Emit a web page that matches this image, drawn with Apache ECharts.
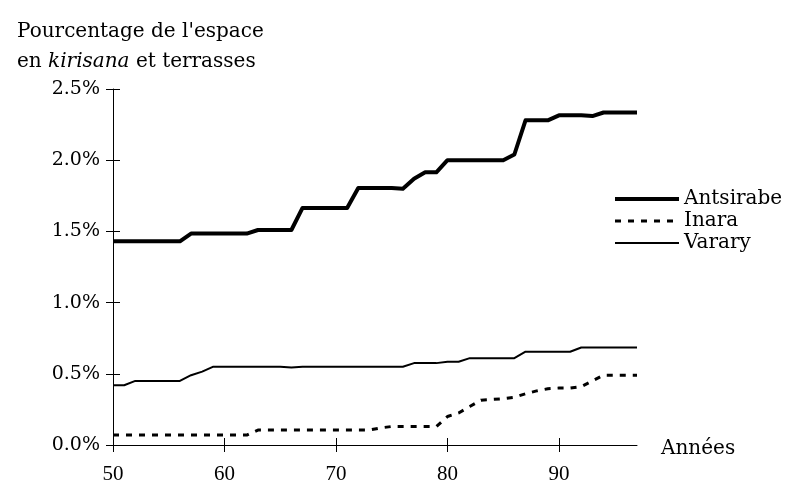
<!DOCTYPE html>
<html>
<head>
<meta charset="utf-8">
<script src="https://cdn.jsdelivr.net/npm/echarts@6/dist/echarts.min.js"></script>
<style>
html,body{margin:0;padding:0;background:#fff;}
#c{width:791px;height:485px;}
</style>
</head>
<body>
<div id="c"></div>
<script>
const years = [50,51,52,53,54,55,56,57,58,59,60,61,62,63,64,65,66,67,68,69,70,71,72,73,74,75,76,77,78,79,80,81,82,83,84,85,86,87,88,89,90,91,92,93,94,95,96,97];
const antsirabe = [1.43,1.43,1.43,1.43,1.43,1.43,1.43,1.485,1.485,1.485,1.485,1.485,1.485,1.51,1.51,1.51,1.51,1.665,1.665,1.665,1.665,1.665,1.805,1.805,1.805,1.805,1.80,1.87,1.915,1.915,2.00,2.00,2.00,2.00,2.00,2.00,2.04,2.28,2.28,2.28,2.315,2.315,2.315,2.31,2.335,2.335,2.335,2.335];
const inara = [0.07,0.07,0.07,0.07,0.07,0.07,0.07,0.07,0.07,0.07,0.07,0.07,0.07,0.105,0.105,0.105,0.105,0.105,0.105,0.105,0.105,0.105,0.105,0.105,0.12,0.13,0.13,0.13,0.13,0.13,0.20,0.225,0.27,0.315,0.32,0.325,0.335,0.36,0.38,0.395,0.40,0.40,0.41,0.45,0.49,0.49,0.49,0.49];
const varary = [0.42,0.42,0.45,0.45,0.45,0.45,0.45,0.49,0.515,0.55,0.55,0.55,0.55,0.55,0.55,0.55,0.545,0.55,0.55,0.55,0.55,0.55,0.55,0.55,0.55,0.55,0.55,0.575,0.575,0.575,0.585,0.585,0.61,0.61,0.61,0.61,0.61,0.655,0.655,0.655,0.655,0.655,0.685,0.685,0.685,0.685,0.685,0.685];
const xTicks = [50,60,70,80,90];
const yTicks = [0,0.5,1.0,1.5,2.0,2.5];
const seriesNames = ['Antsirabe','Inara','Varary'];
const titleLines = ["Pourcentage de l'espace", "en {i|kirisana} et terrasses"];
const xName = 'Années';

const SERIF = 'DejaVu Serif';
const pair = arr => years.map((y,i)=>[y,arr[i]]);
const widths = [4,3,2];
const types = ['solid',[6,7],'solid'];

const chart = echarts.init(document.getElementById('c'), null, {renderer:'canvas'});
const axisCommonX = {type:'value', min:50, max:97, interval:10, splitLine:{show:false}};
const axisCommonY = {type:'value', min:0, max:2.5, interval:0.5, splitLine:{show:false}};
chart.setOption({
  animation:false,
  backgroundColor:'#fff',
  title:{
    text: titleLines.join('\n'),
    left:12, top:12,
    textStyle:{fontFamily:SERIF, fontSize:20, fontWeight:'normal', color:'#000', lineHeight:30,
      rich:{i:{fontFamily:SERIF, fontSize:20, fontStyle:'italic', color:'#000', lineHeight:30}}}
  },
  legend:{
    orient:'vertical', left:613, top:189, itemWidth:64, itemHeight:20, itemGap:2, padding:0,
    data: seriesNames.map((n,i)=>({name:n, lineStyle:{width:widths[i], type:types[i], color:'#000'}})),
    itemStyle:{opacity:0, color:'transparent', borderWidth:0},
    textStyle:{fontFamily:SERIF, fontSize:20, color:'#000'}
  },
  grid:{left:113, right:154, top:89, bottom:40, containLabel:false},
  xAxis:[
    Object.assign({}, axisCommonX, {
      position:'bottom',
      axisLine:{show:true, lineStyle:{color:'#000', width:1}},
      axisTick:{show:true, inside:false, length:7, lineStyle:{color:'#000'}, customValues:xTicks},
      axisLabel:{show:true, margin:19, fontFamily:'Liberation Serif', fontSize:21, color:'#000', customValues:xTicks},
      name:xName, nameLocation:'end', nameGap:24,
      nameTextStyle:{fontFamily:SERIF, fontSize:20, color:'#000', verticalAlign:'top', lineHeight:8}
    }),
    Object.assign({}, axisCommonX, {
      position:'bottom',
      axisLine:{show:false},
      axisTick:{show:true, inside:true, length:7, lineStyle:{color:'#000'}, customValues:xTicks},
      axisLabel:{show:false}
    })
  ],
  yAxis:[
    Object.assign({}, axisCommonY, {
      position:'left',
      axisLine:{show:true, lineStyle:{color:'#000', width:1}},
      axisTick:{show:true, inside:false, length:7, lineStyle:{color:'#000'}},
      axisLabel:{show:true, margin:13, fontFamily:SERIF, fontSize:19, color:'#000',
        formatter: v => v.toFixed(1)+'%'}
    }),
    Object.assign({}, axisCommonY, {
      position:'left',
      axisLine:{show:false},
      axisTick:{show:true, inside:true, length:7, lineStyle:{color:'#000'}},
      axisLabel:{show:false}
    })
  ],
  series:[0,1,2].map(i=>({
    name:seriesNames[i], type:'line', data:pair([antsirabe,inara,varary][i]), showSymbol:false, symbol:'none',
    lineStyle:{color:'#000', width:widths[i], type:types[i], join:'round'}, itemStyle:{color:'#000'}, z:3-i
  }))
});
</script>
</body>
</html>
